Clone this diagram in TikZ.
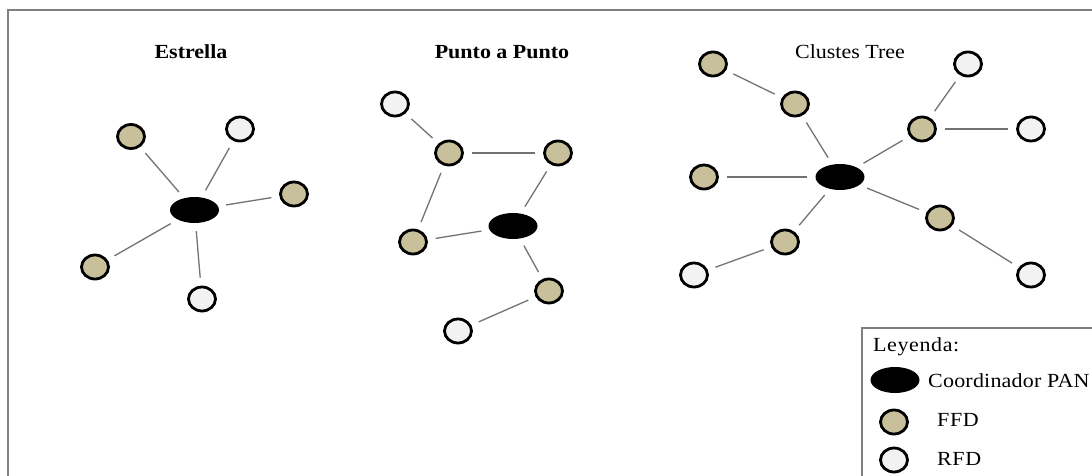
\documentclass[tikz,border=0pt]{standalone}
\usepackage{fontspec}
\setmainfont[FakeStretch=1.1]{Liberation Serif}
\newfontfamily\leyfont[FakeStretch=1.1,LetterSpace=3]{Liberation Serif}
\newfontfamily\panfont[FakeStretch=1.1,LetterSpace=1]{Liberation Serif}
\usetikzlibrary{shapes.geometric}
\definecolor{ffdtan}{RGB}{200,192,155}
\definecolor{rfdgray}{RGB}{242,242,242}
\definecolor{marco}{RGB}{128,128,128}

\tikzset{
  ffd/.style={ellipse, draw, line width=2.8pt, fill=ffdtan, minimum width=27pt, minimum height=24pt, inner sep=0pt},
  rfd/.style={ffd, fill=rfdgray},
  pan/.style={ellipse, fill=black, minimum width=49pt, minimum height=26pt, inner sep=0pt},
  link/.style={draw=black!55, line width=1.3pt, shorten <=8pt, shorten >=8pt},
  titulo/.style={font=\fontsize{20}{23}\selectfont\bfseries},
  texto/.style={font=\leyfont\fontsize{20}{23}\selectfont, anchor=base west, inner sep=0pt},
}

\begin{document}
\begin{tikzpicture}[x=1pt,y=-1pt]
\clip (0,0) rectangle (1092,476);
\fill[white] (0,0) rectangle (1092,476);
% marco
\draw[marco, line width=1.8pt] (8,10) rectangle (1100,490);

%Estrella
\node[titulo] (tE) at (191,52) {Estrella};
\node[pan] (e0) at (194.5,210) {};
\node[ffd] (e1) at (131,136.5) {};
\node[rfd] (e2) at (240,129) {};
\node[ffd] (e3) at (294,194) {};
\node[ffd] (e4) at (95,267) {};
\node[rfd] (e5) at (202,299) {};
\foreach \n in {e1,e2,e3,e4,e5}
  \draw[link] (e0) -- (\n);

%Punto a Punto
\node[titulo] (tP) at (502,52) {Punto a Punto};
\node[pan] (p0) at (513,226) {};
\node[rfd] (p1) at (395,104) {};
\node[ffd] (p2) at (449,153) {};
\node[ffd] (p3) at (558,153) {};
\node[ffd] (p4) at (413,242) {};
\node[ffd] (p5) at (549,291) {};
\node[rfd] (p6) at (458,331) {};
\foreach \a/\b in {p1/p2,p2/p3,p2/p4,p4/p0,p3/p0,p0/p5,p5/p6}
  \draw[link] (\a) -- (\b);

%Clustes Tree
\node[titulo, font=\fontsize{20}{23}\selectfont] (tC) at (850,52) {Clustes Tree};
\node[pan] (c0) at (840,177) {};
\node[ffd] (c1) at (713,64) {};
\node[ffd] (c2) at (795,104) {};
\node[rfd] (c3) at (968,64) {};
\node[ffd] (c4) at (922,129) {};
\node[rfd] (c5) at (1031,129) {};
\node[ffd] (c6) at (704,177) {};
\node[ffd] (c7) at (940,218) {};
\node[rfd] (c8) at (1031,275) {};
\node[ffd] (c9) at (785,242) {};
\node[rfd] (c10) at (694,275) {};
\foreach \a/\b in {c1/c2,c2/c0,c0/c4,c4/c3,c4/c5,c6/c0,c0/c7,c7/c8,c0/c9,c9/c10}
  \draw[link] (\a) -- (\b);

%Leyenda
\draw[marco, line width=1.5pt] (862,328) rectangle (1100,490);
\node[texto] (ley) at (873,351) {Leyenda:};
\node[pan] (l0) at (895,380) {};
\node[texto, font=\panfont\fontsize{20}{23}\selectfont] (lt0) at (928,387) {Coordinador PAN};
\node[ffd] (l1) at (894,422) {};
\node[texto] (lt1) at (937,426) {FFD};
\node[rfd] (l2) at (894,460) {};
\node[texto] (lt2) at (937,465) {RFD};
\end{tikzpicture}
\end{document}
